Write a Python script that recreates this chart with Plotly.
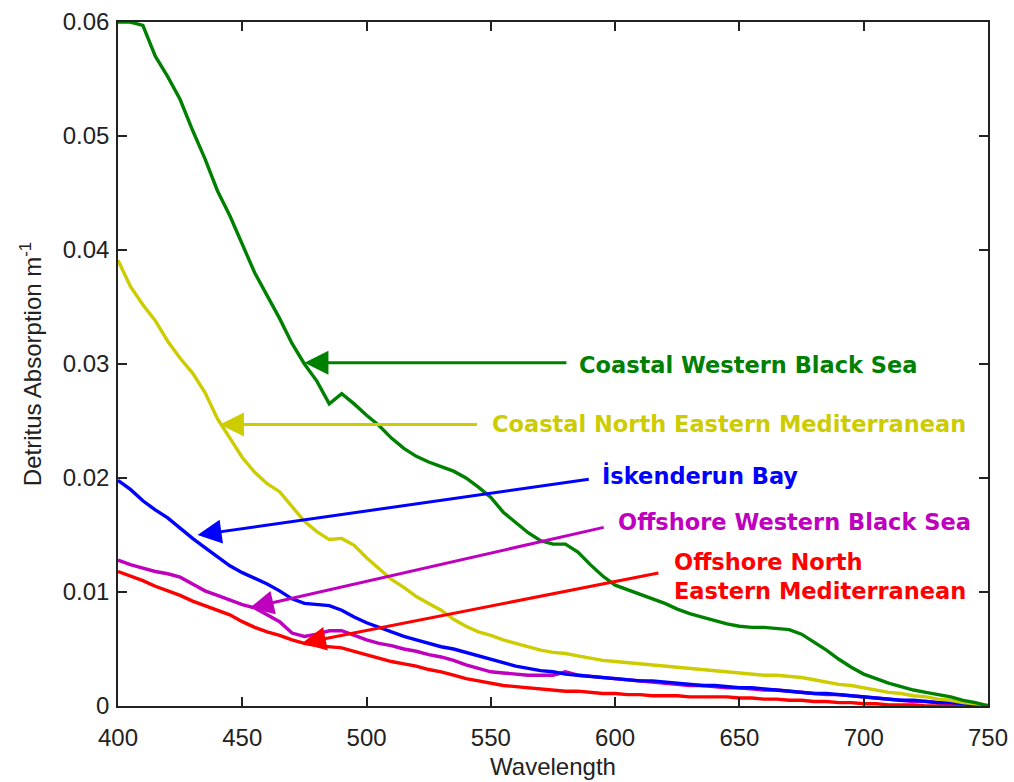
import plotly.graph_objects as go

wavelength = list(range(400, 755, 5))

coastal_wbs = [0.0600, 0.0600, 0.0597, 0.0570, 0.0552, 0.0532, 0.0505, 0.0480, 0.0452, 0.0430,
               0.0405, 0.0380, 0.0360, 0.0340, 0.0318, 0.0300, 0.0285, 0.0265, 0.0274, 0.0265,
               0.0255, 0.0246, 0.0235, 0.0226, 0.0219, 0.0214, 0.0210, 0.0206, 0.0200, 0.0192,
               0.0183, 0.0170, 0.0161, 0.0152, 0.0145, 0.0142, 0.0142, 0.0135, 0.0124, 0.0114,
               0.0106, 0.0102, 0.0098, 0.0094, 0.0090, 0.0085, 0.0081, 0.0078, 0.0075, 0.0072,
               0.0070, 0.0069, 0.0069, 0.0068, 0.0067, 0.0063, 0.0056, 0.0049, 0.0041, 0.0034,
               0.0028, 0.0024, 0.0020, 0.0017, 0.0014, 0.0012, 0.0010, 0.0008, 0.0005, 0.0003,
               0.0000]

coastal_nem = [0.0391, 0.0368, 0.0352, 0.0338, 0.0320, 0.0305, 0.0292, 0.0275, 0.0252, 0.0235,
               0.0218, 0.0205, 0.0195, 0.0188, 0.0175, 0.0162, 0.0153, 0.0146, 0.0147, 0.0141,
               0.0130, 0.0120, 0.0111, 0.0104, 0.0096, 0.0090, 0.0084, 0.0076, 0.0070, 0.0065,
               0.0062, 0.0058, 0.0055, 0.0052, 0.0049, 0.0047, 0.0046, 0.0044, 0.0042, 0.0040,
               0.0039, 0.0038, 0.0037, 0.0036, 0.0035, 0.0034, 0.0033, 0.0032, 0.0031, 0.0030,
               0.0029, 0.0028, 0.0027, 0.0027, 0.0026, 0.0025, 0.0023, 0.0021, 0.0019, 0.0018,
               0.0016, 0.0014, 0.0012, 0.0011, 0.0009, 0.0008, 0.0006, 0.0005, 0.0003, 0.0002,
               0.0001]

iskenderun = [0.0198, 0.0190, 0.0180, 0.0172, 0.0165, 0.0156, 0.0147, 0.0139, 0.0131, 0.0123,
              0.0117, 0.0112, 0.0107, 0.0101, 0.0094, 0.0090, 0.0089, 0.0088, 0.0084, 0.0078,
              0.0073, 0.0069, 0.0065, 0.0061, 0.0058, 0.0055, 0.0052, 0.0050, 0.0047, 0.0044,
              0.0041, 0.0038, 0.0035, 0.0033, 0.0031, 0.0030, 0.0028, 0.0027, 0.0026, 0.0025,
              0.0024, 0.0023, 0.0022, 0.0022, 0.0021, 0.0020, 0.0019, 0.0018, 0.0018, 0.0017,
              0.0016, 0.0016, 0.0015, 0.0014, 0.0013, 0.0012, 0.0011, 0.0011, 0.0010, 0.0009,
              0.0008, 0.0007, 0.0006, 0.0005, 0.0005, 0.0004, 0.0003, 0.0003, 0.0002, 0.0001,
              0.0000]

offshore_wbs = [0.0128, 0.0124, 0.0121, 0.0118, 0.0116, 0.0113, 0.0107, 0.0101, 0.0097, 0.0093,
                0.0089, 0.0086, 0.0080, 0.0074, 0.0064, 0.0061, 0.0063, 0.0066, 0.0066, 0.0062,
                0.0058, 0.0055, 0.0053, 0.0050, 0.0048, 0.0045, 0.0043, 0.0040, 0.0036, 0.0033,
                0.0030, 0.0029, 0.0028, 0.0027, 0.0027, 0.0027, 0.0030, 0.0027, 0.0026, 0.0025,
                0.0024, 0.0023, 0.0022, 0.0021, 0.0020, 0.0019, 0.0018, 0.0018, 0.0017, 0.0016,
                0.0016, 0.0015, 0.0014, 0.0014, 0.0013, 0.0012, 0.0011, 0.0010, 0.0010, 0.0009,
                0.0008, 0.0007, 0.0006, 0.0005, 0.0004, 0.0004, 0.0003, 0.0002, 0.0002, 0.0001,
                0.0000]

offshore_nem = [0.0118, 0.0114, 0.0110, 0.0105, 0.0101, 0.0097, 0.0092, 0.0088, 0.0084, 0.0080,
                0.0074, 0.0069, 0.0065, 0.0062, 0.0058, 0.0055, 0.0053, 0.0052, 0.0051, 0.0048,
                0.0045, 0.0042, 0.0039, 0.0037, 0.0035, 0.0032, 0.0030, 0.0027, 0.0024, 0.0022,
                0.0020, 0.0018, 0.0017, 0.0016, 0.0015, 0.0014, 0.0013, 0.0013, 0.0012, 0.0011,
                0.0011, 0.0010, 0.0010, 0.0009, 0.0009, 0.0009, 0.0008, 0.0008, 0.0008, 0.0008,
                0.0007, 0.0007, 0.0006, 0.0006, 0.0005, 0.0005, 0.0004, 0.0004, 0.0003, 0.0003,
                0.0002, 0.0002, 0.0001, 0.0001, 0.0001, 0.0000, 0.0000, 0.0000, 0.0000, 0.0000,
                0.0000]

series_names = ["Coastal Western Black Sea", "Coastal North Eastern Mediterranean",
                "İskenderun Bay", "Offshore Western Black Sea",
                "Offshore North<br>Eastern Mediterranean"]
series_colors = ["#008000", "#CCCC00", "#0000FF", "#BF00BF", "#FF0000"]

# arrow heads (on curves) and tails, label anchors
arrow_head_x = [475, 441, 432, 453, 474]
arrow_head_y = [0.0301, 0.0247, 0.0150, 0.0086, 0.0055]
arrow_tail_x = [581, 545, 590, 596, 618]
arrow_tail_y = [0.0301, 0.0247, 0.0199, 0.0157, 0.0117]
label_x = [584.5, 549.5, 594, 600.5, 623]
label_y = [0.0299, 0.0247, 0.0202, 0.0161, 0.0114]

x_ticks = [400, 450, 500, 550, 600, 650, 700, 750]
y_ticks = [0, 0.01, 0.02, 0.03, 0.04, 0.05, 0.06]
y_tick_text = ["0", "0.01", "0.02", "0.03", "0.04", "0.05", "0.06"]

data_by_name = {
    0: coastal_wbs, 1: coastal_nem, 2: iskenderun, 3: offshore_wbs, 4: offshore_nem,
}
draw_order = [3, 4, 2, 1, 0]

fig = go.Figure()
for i in draw_order:
    fig.add_trace(go.Scatter(
        x=wavelength, y=data_by_name[i], mode="lines",
        line=dict(color=series_colors[i], width=3.4),
        name=series_names[i].replace("<br>", " "), showlegend=False,
    ))

annotations = []
for i in range(5):
    annotations.append(dict(
        x=arrow_head_x[i], y=arrow_head_y[i], xref="x", yref="y",
        ax=arrow_tail_x[i], ay=arrow_tail_y[i], axref="x", ayref="y",
        text="", showarrow=True, arrowhead=2, arrowsize=1.6, arrowwidth=3,
        arrowcolor=series_colors[i], standoff=0, startstandoff=0,
    ))
    annotations.append(dict(
        x=label_x[i], y=label_y[i], xref="x", yref="y",
        text=series_names[i], showarrow=False, xanchor="left", yanchor="middle",
        align="left",
        font=dict(family="DejaVu Sans", size=22.5, color=series_colors[i], weight="bold"),
    ))

axis_font = dict(family="Arial, Liberation Sans", size=24, color="#222222")

fig.update_layout(
    width=1014, height=782,
    margin=dict(l=118, r=26, t=22, b=76),
    paper_bgcolor="white", plot_bgcolor="white",
    annotations=annotations,
    xaxis=dict(
        range=[400, 750], tickvals=x_ticks, ticks="inside", ticklen=9, tickwidth=1.5,
        tickcolor="#222222", showline=True, linecolor="#222222", linewidth=1.5,
        mirror="ticks", showgrid=False, zeroline=False, tickfont=axis_font,
        ticklabelstandoff=9, automargin=False,
        title=dict(text="Wavelength", font=axis_font, standoff=9),
    ),
    yaxis=dict(
        range=[0, 0.06], tickvals=y_ticks, ticktext=y_tick_text, ticks="inside",
        ticklen=9, tickwidth=1.5, tickcolor="#222222", showline=True,
        linecolor="#222222", linewidth=1.5, mirror="ticks", showgrid=False,
        zeroline=False, tickfont=axis_font, ticklabelstandoff=2, automargin=False,
        title=dict(text="Detritus Absorption m<sup>-1</sup>", font=axis_font, standoff=14),
    ),
)

fig.write_html("out.html")
